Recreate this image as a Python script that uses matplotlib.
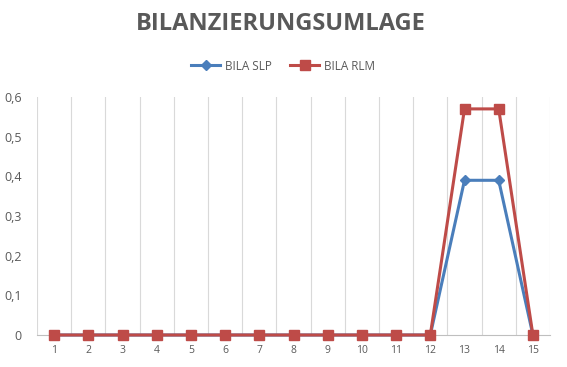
import matplotlib
matplotlib.use("Agg")
import matplotlib.pyplot as plt

categories = list(range(1, 16))
bila_slp = [0, 0, 0, 0, 0, 0, 0, 0, 0, 0, 0, 0, 0.39, 0.39, 0]
bila_rlm = [0, 0, 0, 0, 0, 0, 0, 0, 0, 0, 0, 0, 0.57, 0.57, 0]
y_ticks = [0, 0.1, 0.2, 0.3, 0.4, 0.5, 0.6]
y_labels = ["0", "0,1", "0,2", "0,3", "0,4", "0,5", "0,6"]

plt.rcParams["font.family"] = ["Open Sans", "DejaVu Sans"]

fig = plt.figure(figsize=(5.67, 3.67), dpi=100)
ax = fig.add_axes([37 / 567, 1 - 335 / 367, (550 - 37) / 567, (335 - 97) / 367])

blue = "#4A7EBB"
red = "#BE4B48"
ax.plot(categories, bila_slp, color=blue, lw=2.2, marker="D", ms=5,
        label="BILA SLP", clip_on=False, zorder=3)
ax.plot(categories, bila_rlm, color=red, lw=2.2, marker="s", ms=7,
        label="BILA RLM", clip_on=False, zorder=4)

ax.set_xlim(0.5, 15.5)
ax.set_ylim(0, 0.6)

# vertical grid between categories
for b in range(0, 16):
    ax.axvline(b + 0.5, color="#D9D9D9", lw=0.8, zorder=0)

for s in ["top", "right", "left"]:
    ax.spines[s].set_visible(False)
ax.spines["bottom"].set_color("#BFBFBF")

ax.set_xticks(categories)
ax.set_xticklabels([str(c) for c in categories], fontsize=7.5, color="#595959")
ax.set_yticks(y_ticks)
ax.set_yticklabels(y_labels, fontsize=9, color="#595959")
ax.tick_params(axis="both", length=0)
ax.tick_params(axis="x", pad=7)
ax.tick_params(axis="y", pad=11)

fig.text(281 / 567, 1 - 24 / 367, "BILANZIERUNGSUMLAGE", ha="center", va="center",
         fontsize=17, fontweight="bold", color="#595959")

ax.legend(loc="center", bbox_to_anchor=(283 / 567, 1 - 66 / 367),
          bbox_transform=fig.transFigure, ncol=2, frameon=False,
          fontsize=8.5, labelcolor="#595959", handlelength=2.5,
          columnspacing=1.5, handletextpad=0.4)

fig.savefig("out.png", dpi=100)
